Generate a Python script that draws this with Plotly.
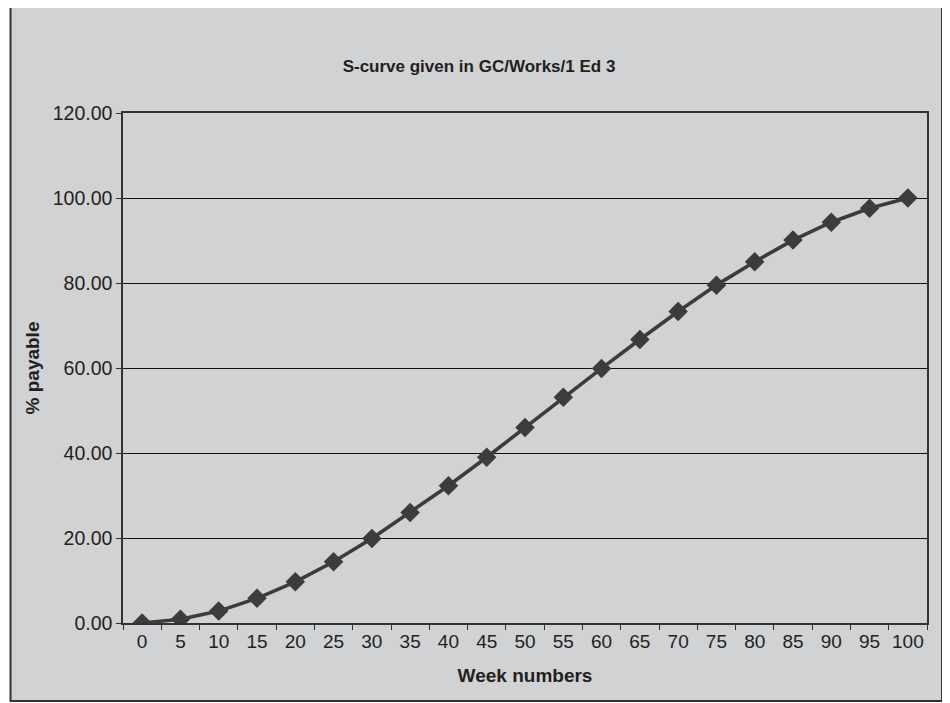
"""
S-curve given in GC/Works/1 Ed 3 - cumulative % payable by week
"""

import plotly.graph_objects as go

# Data
weeks = [0, 5, 10, 15, 20, 25, 30, 35, 40, 45, 50,
         55, 60, 65, 70, 75, 80, 85, 90, 95, 100]
pct_payable = [0.0, 0.9, 2.8, 5.8, 9.7, 14.4, 19.9, 26.0, 32.3, 39.0, 46.0,
               53.1, 59.9, 66.7, 73.3, 79.5, 85.0, 90.1, 94.3, 97.6, 100.0]

week_labels = [str(w) for w in weeks]

FONT = "Liberation Sans, Arial, sans-serif"
DARK = '#3c3c3e'
GREY_BG = '#d1d2d4'

# page body keeps its default 8px margin, so the figure is 8px smaller
FIG_W, FIG_H = 942, 695

fig = go.Figure()

fig.add_trace(go.Scatter(
    x=week_labels,
    y=pct_payable,
    mode='lines+markers',
    line=dict(color=DARK, width=3.6),
    marker=dict(symbol='diamond', size=15, color=DARK),
    showlegend=False,
    hovertemplate='Week %{x}<br>%{y:.2f}%<extra></extra>'
))

# Grey chart area with dark border (Excel style frame)
fig.add_shape(
    type='rect', xref='paper', yref='paper', layer='below',
    x0=-0.1399, x1=1.0187, y0=-0.153, y1=1.2078,
    fillcolor=GREY_BG, line=dict(color='#333333', width=2)
)

fig.update_layout(
    width=FIG_W,
    height=FIG_H,
    paper_bgcolor='white',
    plot_bgcolor='white',
    margin=dict(l=115, r=23, t=105, b=80),
    font=dict(family=FONT, color='#231f20'),
    title=dict(
        text='<b>S-curve given in GC/Works/1 Ed 3</b>',
        font=dict(size=17, family=FONT, color='#231f20'),
        x=471 / FIG_W, xanchor='center',
        y=1 - 58 / FIG_H, yanchor='middle', yref='container'
    ),
    xaxis=dict(
        type='category',
        range=[-0.5, len(weeks) - 0.5],
        tickson='boundaries',
        ticks='outside',
        ticklen=5,
        tickcolor='#333333',
        tickangle=0,
        tickfont=dict(size=19),
        automargin=False,
        showgrid=False,
        showline=True,
        linecolor='#333333',
        linewidth=1.5,
        mirror=True,
        title=dict(text='<b>Week numbers</b>', font=dict(size=19), standoff=18),
    ),
    yaxis=dict(
        range=[0, 120],
        dtick=20,
        tickformat='.2f',
        ticks='outside',
        ticklen=5,
        tickcolor='#333333',
        tickfont=dict(size=19.5),
        automargin=False,
        showgrid=True,
        gridcolor='#111111',
        gridwidth=1.2,
        zeroline=False,
        showline=True,
        linecolor='#333333',
        linewidth=1.5,
        mirror=True,
        title=dict(text='<b>% payable</b>', font=dict(size=19), standoff=8),
    ),
)

fig.write_html("out.html")
